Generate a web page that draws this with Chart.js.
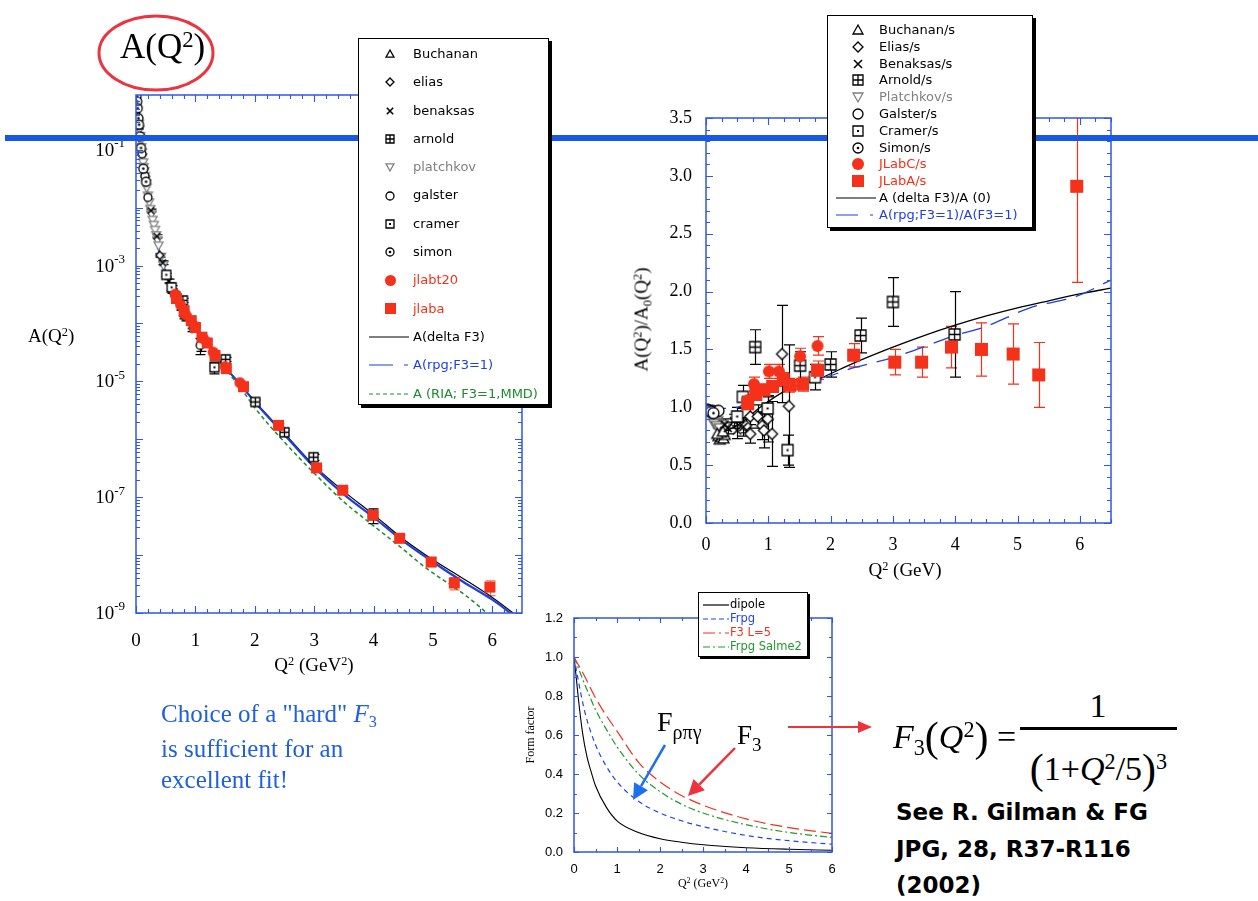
<!DOCTYPE html>
<html>
<head>
<meta charset="utf-8">
<script src="https://cdn.jsdelivr.net/npm/chart.js@4.4.1/dist/chart.umd.min.js"></script>
<style>
  body { margin: 0; width: 1258px; height: 901px; background: #fff; position: relative; overflow: hidden; font-family: 'Liberation Serif', serif; }
  canvas.chart { position: absolute; z-index: 1; }
  .t { position: absolute; white-space: nowrap; line-height: 1; z-index: 2; }
  .sp { font-size: .65em; position: relative; top: -.5em; }
  .sb { font-size: .65em; position: relative; top: .3em; }
  .legend { position: absolute; background: #fff; border: 1.5px solid #000; box-shadow: 3px 3px 0 #000; font-family: 'DejaVu Sans', sans-serif; z-index: 4; box-sizing: border-box; }
  #bar { position: absolute; left: 5px; top: 135px; width: 1253px; height: 6px; background: #1858e6; z-index: 3; }
  #ov { position: absolute; left: 0; top: 0; z-index: 5; pointer-events: none; }
</style>
</head>
<body>
<canvas class="chart" id="c1" width="560" height="700" style="left:0;top:0"></canvas>
<canvas class="chart" id="c2" width="698" height="600" style="left:560px;top:0"></canvas>
<canvas class="chart" id="c3" width="360" height="321" style="left:500px;top:580px"></canvas>
<div id="bar"></div>

<div class="legend" id="leg1"></div>
<div class="legend" id="leg2"></div>
<div class="legend" id="leg3" style="box-shadow:2px 2px 0 #000"></div>

<div class="t" style="left:120px;top:29px;font-size:35px">A(Q<span class="sp">2</span>)</div>
<div class="t" style="left:28px;top:326px;font-size:19px">A(Q<span class="sp">2</span>)</div>
<div class="t" style="left:234px;top:655px;width:160px;text-align:center;font-size:19px">Q<span class="sp">2</span> (GeV<span class="sp">2</span>)</div>
<div class="t" style="left:825px;top:560px;width:160px;text-align:center;font-size:19px">Q<span class="sp">2</span> (GeV)</div>
<div class="t" style="left:561px;top:310px;width:160px;text-align:center;font-size:19px;transform:rotate(-90deg)">A(Q<span class="sp">2</span>)/A<span class="sb">0</span>(Q<span class="sp">2</span>)</div>
<div class="t" style="left:490px;top:729px;width:80px;text-align:center;font-size:12px;transform:rotate(-90deg)">Form factor</div>
<div class="t" style="left:663px;top:877px;width:80px;text-align:center;font-size:12px">Q<span class="sp">2</span> (GeV<span class="sp">2</span>)</div>

<div class="t" style="left:657px;top:708px;font-size:28px">F<span style="font-size:20px;position:relative;top:8px">ρπγ</span></div>
<div class="t" style="left:737px;top:722px;font-size:27px">F<span style="font-size:19px;position:relative;top:7px">3</span></div>

<div class="t" style="left:161px;top:698px;font-size:25px;line-height:31px;color:#1f5fe0">Choice of a "hard" <i>F</i><span class="sb">3</span><br>is sufficient for an<br>excellent fit!</div>

<div class="t" style="left:893px;top:713px;font-size:34px"><i>F</i><span class="sb">3</span><span style="font-size:42px;position:relative;top:3px">(</span><i>Q</i><span class="sp">2</span><span style="font-size:42px;position:relative;top:3px">)</span> =</div>
<div class="t" style="left:1040px;top:689px;width:116px;text-align:center;font-size:34px">1</div>
<div style="position:absolute;left:1020px;top:727px;width:157px;height:2.5px;background:#000;z-index:2"></div>
<div class="t" style="left:1020px;top:745px;width:157px;text-align:center;font-size:34px"><span style="font-size:42px;position:relative;top:3px">(</span>1+<i>Q</i><span class="sp">2</span>/5<span style="font-size:42px;position:relative;top:3px">)</span><span class="sp">3</span></div>

<div class="t" style="left:896px;top:794px;font-size:23px;line-height:36.5px;font-family:'DejaVu Sans',sans-serif;font-weight:bold">See R. Gilman &amp; FG<br>JPG, 28, R37-R116<br>(2002)</div>

<svg id="ov" width="1258" height="901"></svg>

<script>
// ---------- data: chart 1, A(Q^2) on a log axis ----------
const qTicks = [0, 1, 2, 3, 4, 5, 6];
const aTicks = [1e-9, 1e-7, 1e-5, 1e-3, 1e-1];

// [Q2, A, error]
const buchanan1 = [[0.02, 0.63], [0.035, 0.40], [0.05, 0.26]];
const simon1 = [[0.011, 0.85], [0.02, 0.68], [0.029, 0.52], [0.04, 0.35], [0.051, 0.27], [0.068, 0.17], [0.084, 0.107], [0.123, 0.047], [0.169, 0.028]];
const platchkov1 = [[0.05, 0.28], [0.06, 0.22], [0.07, 0.17], [0.08, 0.14], [0.09, 0.11], [0.10, 0.089], [0.11, 0.073], [0.12, 0.060], [0.13, 0.050], [0.14, 0.042], [0.15, 0.035], [0.16, 0.030], [0.17, 0.026], [0.18, 0.022], [0.20, 0.016], [0.22, 0.0122], [0.24, 0.0094], [0.26, 0.0076], [0.28, 0.0061], [0.30, 0.0050], [0.32, 0.0041], [0.34, 0.0033], [0.36, 0.0027], [0.38, 0.0022], [0.42, 0.0014], [0.46, 0.0010]];
const galster1 = [[0.10, 0.085], [0.15, 0.035], [0.20, 0.015], [1.08, 4.2e-5, 1.3e-5]];
const benaksas1 = [[0.25, 8.9e-3, 5e-4], [0.35, 3.2e-3, 2e-4], [0.45, 1.12e-3, 8e-5], [0.55, 5.4e-4, 4e-5], [0.65, 3.2e-4, 3e-5], [0.75, 1.9e-4, 2e-5], [0.85, 1.26e-4, 1.5e-5]];
const elias1 = [[0.40, 1.5e-3, 1e-4], [0.60, 3.6e-4, 3e-5], [0.80, 1.35e-4, 1.5e-5], [0.95, 8.2e-5, 1e-5], [1.10, 4.3e-5, 1e-5]];
const cramer1 = [[0.51, 6.9e-4, 4e-5], [0.60, 4.2e-4, 3e-5], [1.32, 1.75e-5, 4e-6]];
const arnold1 = [[0.79, 2.5e-4, 2e-5], [1.51, 2.4e-5, 2e-6], [2.01, 4.4e-6, 4e-7], [2.50, 1.32e-6, 1.3e-7], [2.99, 4.9e-7, 6e-8], [3.99, 4.9e-8, 1.4e-8]];
const jlabt20 = [[0.66, 3.2e-4, 1.5e-5], [0.75, 2.1e-4, 1e-5], [0.84, 1.4e-4, 7e-6], [1.00, 8.9e-5, 4e-6], [1.14, 5.4e-5, 3e-6], [1.30, 3.2e-5, 2e-6], [1.50, 1.8e-5, 1e-6], [1.75, 9.5e-6, 6e-7]];
const jlaba = [[0.68, 2.7e-4, 1.3e-5], [0.81, 1.66e-4, 8e-6], [0.93, 1.12e-4, 6e-6], [1.00, 8.5e-5, 4e-6], [1.11, 5.8e-5, 3e-6], [1.20, 4.6e-5, 2.5e-6], [1.33, 2.8e-5, 1.5e-6], [1.52, 1.66e-5, 9e-7], [1.81, 8.1e-6, 5e-7], [2.40, 1.74e-6, 1.2e-7], [3.04, 3.2e-7, 2.5e-8], [3.48, 1.32e-7, 1e-8], [3.99, 4.9e-8, 5e-9], [4.44, 1.95e-8, 2.5e-9], [4.97, 7.6e-9, 1.3e-9], [5.36, 3.3e-9, 8e-10], [5.96, 2.8e-9, 8e-10]];

const deltaF3 = [[0, 1.0], [0.05, 0.28], [0.1, 0.089], [0.15, 0.035], [0.2, 0.016], [0.3, 5.0e-3], [0.4, 1.6e-3], [0.5, 7.6e-4], [0.6, 4.2e-4], [0.7, 2.5e-4], [0.8, 1.6e-4], [1.0, 8.5e-5], [1.2, 4.3e-5], [1.5, 1.78e-5], [1.8, 7.9e-6], [2.0, 4.5e-6], [2.5, 1.26e-6], [3.0, 3.5e-7], [3.5, 1.26e-7], [4.0, 5.0e-8], [4.5, 1.9e-8], [5.0, 8.3e-9], [5.5, 4.0e-9], [6.0, 1.86e-9], [6.35, 1.0e-9], [6.5, 7.5e-10]];
const rpgF3 = [[0, 1.0], [0.05, 0.28], [0.1, 0.089], [0.15, 0.035], [0.2, 0.016], [0.3, 5.0e-3], [0.4, 1.6e-3], [0.5, 7.6e-4], [0.6, 4.2e-4], [0.7, 2.5e-4], [0.8, 1.6e-4], [1.0, 8.5e-5], [1.2, 4.3e-5], [1.5, 1.76e-5], [1.8, 7.8e-6], [2.0, 4.4e-6], [2.5, 1.2e-6], [3.0, 3.3e-7], [3.5, 1.12e-7], [4.0, 4.5e-8], [4.5, 1.74e-8], [5.0, 7.6e-9], [5.5, 3.5e-9], [6.0, 1.7e-9], [6.3, 1.0e-9], [6.5, 6.5e-10]];
const riaF3 = [[0, 1.0], [0.05, 0.28], [0.1, 0.089], [0.15, 0.035], [0.2, 0.016], [0.3, 5.0e-3], [0.4, 1.6e-3], [0.5, 7.5e-4], [0.6, 4.1e-4], [0.7, 2.45e-4], [0.8, 1.55e-4], [1.0, 8.2e-5], [1.2, 4.1e-5], [1.5, 1.66e-5], [1.8, 6.8e-6], [2.0, 3.5e-6], [2.5, 8.9e-7], [3.0, 2.6e-7], [3.5, 8.3e-8], [4.0, 3.2e-8], [4.5, 1.26e-8], [4.88, 6.0e-9], [5.5, 2.2e-9], [5.86, 1.1e-9], [6.0, 8e-10]];

// ---------- data: chart 2, A(Q^2)/A0(Q^2) ----------
const ratioTicks = [0, 0.5, 1, 1.5, 2, 2.5, 3, 3.5];
const buchanan2 = [[0.20, 0.75], [0.22, 0.72], [0.25, 0.74], [0.28, 0.73], [0.30, 0.76], [0.24, 0.78], [0.18, 0.77], [0.27, 0.79]];
const elias2 = [[0.64, 0.84, 0.06], [0.71, 0.77, 0.08], [0.71, 0.92, 0.1], [0.83, 0.92, 0.1], [0.90, 0.84, 0.12], [0.93, 0.80, 0.15], [0.99, 0.90, 0.2], [1.06, 0.77, 0.28], [1.22, 1.46, 0.42], [1.33, 1.01, 0.53]];
const benaksas2 = [[0.30, 0.85, 0.05], [0.35, 0.82, 0.05], [0.45, 0.88, 0.06], [0.50, 0.80, 0.07], [0.60, 0.83, 0.08]];
const arnold2 = [[0.79, 1.52, 0.15], [1.51, 1.36, 0.12], [2.00, 1.37, 0.11], [2.48, 1.62, 0.15], [3.00, 1.91, 0.21], [3.99, 1.63, 0.37]];
const platchkov2 = [[0.02, 0.97], [0.05, 0.96], [0.08, 0.95], [0.10, 0.93], [0.12, 0.91], [0.15, 0.90], [0.18, 0.88], [0.20, 0.86], [0.25, 0.85], [0.30, 0.83], [0.13, 0.86], [0.17, 0.84], [0.22, 0.82]];
const galster2 = [[0.10, 0.97], [0.15, 0.96], [0.20, 0.97]];
const cramer2 = [[0.50, 0.92, 0.08], [0.59, 1.09, 0.1], [0.99, 0.99, 0.1], [1.31, 0.63, 0.13], [1.75, 1.26, 0.11]];
const simon2 = [[0.02, 0.98], [0.05, 0.97], [0.08, 0.96], [0.12, 0.95]];
const jlabC = [[0.66, 1.06, 0.05], [0.77, 1.20, 0.06], [1.01, 1.31, 0.06], [1.17, 1.31, 0.06], [1.51, 1.44, 0.07], [1.79, 1.53, 0.08]];
const jlabA = [[0.67, 1.03, 0.04], [0.80, 1.11, 0.04], [0.93, 1.15, 0.05], [1.07, 1.18, 0.05], [1.24, 1.24, 0.06], [1.34, 1.19, 0.06], [1.55, 1.20, 0.06], [1.79, 1.32, 0.08], [2.37, 1.45, 0.1], [3.03, 1.39, 0.11], [3.46, 1.39, 0.13], [3.94, 1.52, 0.18], [4.42, 1.50, 0.23], [4.93, 1.46, 0.26], [5.34, 1.28, 0.28], [5.95, 2.91, 0.83]];
const ratioDelta = [[0.35, 0.80], [0.55, 0.86], [0.87, 1.00], [1.30, 1.15], [1.83, 1.25], [2.36, 1.38], [3.00, 1.52], [3.50, 1.62], [4.00, 1.71], [4.50, 1.79], [5.00, 1.86], [5.50, 1.92], [6.00, 1.98], [6.50, 2.03]];
const ratioRpg = [[0.0, 1.0], [0.2, 0.99], [0.5, 1.0], [0.8, 1.1], [1.27, 1.22], [1.83, 1.25], [2.36, 1.34], [3.0, 1.43], [4.0, 1.62], [4.5, 1.70], [5.2, 1.86], [5.95, 1.96], [6.5, 2.10]];

// ---------- data: chart 3, form factors ----------
const ffTicks = [0, 0.2, 0.4, 0.6, 0.8, 1.0, 1.2];
const dipole = [[0, 1], [0.05, 0.9], [0.1, 0.79], [0.2, 0.61], [0.3, 0.49], [0.4, 0.41], [0.5, 0.34], [0.75, 0.23], [1.0, 0.16], [1.5, 0.1], [2.0, 0.068], [2.5, 0.05], [3.0, 0.037], [4.0, 0.022], [5.0, 0.014], [6.0, 0.009]];
const frpg = [[0, 1], [0.1, 0.88], [0.25, 0.72], [0.5, 0.55], [0.75, 0.44], [1.0, 0.36], [1.5, 0.26], [2.0, 0.2], [2.5, 0.16], [3.0, 0.13], [4.0, 0.085], [5.0, 0.058], [6.0, 0.04]];
const f3L5 = [[0, 1], [0.25, 0.9], [0.5, 0.79], [0.75, 0.7], [1.0, 0.62], [1.5, 0.46], [2.0, 0.36], [2.5, 0.29], [3.0, 0.24], [4.0, 0.17], [5.0, 0.125], [6.0, 0.095]];
const salme2 = [[0, 1], [0.25, 0.86], [0.5, 0.73], [0.75, 0.63], [1.0, 0.54], [1.5, 0.4], [2.0, 0.31], [2.5, 0.245], [3.0, 0.2], [4.0, 0.14], [5.0, 0.1], [6.0, 0.075]];

// ---------- helpers ----------
const SERIF = "'Liberation Serif', serif";
const SANS = "'Liberation Sans', sans-serif";
const AXIS = '#2f56e8';
const RED = '#f4311a';
const GRAY = '#808080';

function pts(a) { return a.map(p => ({ x: p[0], y: p[1] })); }
function errs(a) { return a.map(p => p[2] || 0); }

// marker glyphs drawn on small canvases, used as pointStyle
function mk(kind, size, color) {
  const s = size + 4, c = document.createElement('canvas');
  c.width = c.height = s;
  const g = c.getContext('2d'), m = s / 2, r = size / 2;
  g.lineWidth = 1.3;
  g.strokeStyle = color;
  g.fillStyle = '#fff';
  g.beginPath();
  if (kind === 'sq' || kind === 'sqplus' || kind === 'sqdot') {
    g.rect(m - r, m - r, size, size);
    if (kind === 'sq') { g.fillStyle = color; g.fill(); return c; }
    g.fill(); g.stroke();
    g.beginPath();
    if (kind === 'sqplus') { g.moveTo(m, m - r); g.lineTo(m, m + r); g.moveTo(m - r, m); g.lineTo(m + r, m); g.stroke(); }
    else { g.fillStyle = color; g.fillRect(m - 1, m - 1, 2, 2); }
  } else if (kind === 'circ' || kind === 'cdot' || kind === 'disc') {
    g.arc(m, m, r, 0, 2 * Math.PI);
    if (kind === 'disc') { g.fillStyle = color; g.fill(); return c; }
    g.fill(); g.stroke();
    if (kind === 'cdot') { g.beginPath(); g.fillStyle = color; g.arc(m, m, 1.3, 0, 2 * Math.PI); g.fill(); }
  } else if (kind === 'tri') {
    g.moveTo(m, m - r); g.lineTo(m + r, m + r * 0.8); g.lineTo(m - r, m + r * 0.8); g.closePath(); g.fill(); g.stroke();
  } else if (kind === 'tridown') {
    g.moveTo(m, m + r); g.lineTo(m + r, m - r * 0.8); g.lineTo(m - r, m - r * 0.8); g.closePath(); g.fill(); g.stroke();
  } else if (kind === 'dia') {
    g.moveTo(m, m - r); g.lineTo(m + r, m); g.lineTo(m, m + r); g.lineTo(m - r, m); g.closePath(); g.fill(); g.stroke();
  } else if (kind === 'x') {
    g.lineWidth = 1.6;
    g.moveTo(m - r * 0.8, m - r * 0.8); g.lineTo(m + r * 0.8, m + r * 0.8);
    g.moveTo(m + r * 0.8, m - r * 0.8); g.lineTo(m - r * 0.8, m + r * 0.8); g.stroke();
  }
  return c;
}

function pointSet(data, kind, size, color, order, errColor) {
  return {
    data: pts(data), err: errs(data), errColor: errColor || color,
    pointStyle: mk(kind, size, color), pointRadius: size / 2, showLine: false, order: order
  };
}
function curve(data, color, width, dash) {
  return {
    data: pts(data), showLine: true, pointRadius: 0, borderColor: color, borderWidth: width,
    borderDash: dash || [], cubicInterpolationMode: 'monotone', order: 5
  };
}

function tickList(t) {
  const out = [];
  if (t.log) {
    for (let e = t.from; e <= t.to; e++) {
      for (let k = 1; k < 10; k++) {
        const v = k * Math.pow(10, e);
        if (v >= t.min * 0.999 && v <= t.max) out.push([v, k === 1]);
      }
    }
  } else {
    const n = Math.floor((t.max - t.min) / t.minor + 1e-6);
    for (let i = 0; i <= n; i++) {
      const v = t.min + i * t.minor;
      out.push([v, Math.abs(v / t.major - Math.round(v / t.major)) < 1e-6]);
    }
  }
  return out;
}

// blue box round the plot with inward ticks on all four sides
const frame = {
  id: 'frame',
  afterDraw(chart, args, o) {
    const ctx = chart.ctx, a = chart.chartArea, xs = chart.scales.x, ys = chart.scales.y;
    ctx.save();
    ctx.strokeStyle = o.color;
    ctx.lineWidth = 1.5;
    ctx.strokeRect(a.left, a.top, a.right - a.left, a.bottom - a.top);
    ctx.lineWidth = 1.1;
    ctx.beginPath();
    tickList(o.x).forEach(([v, major]) => {
      const p = Math.round(xs.getPixelForValue(v)) + 0.5, L = major ? o.major : o.minor;
      ctx.moveTo(p, a.bottom); ctx.lineTo(p, a.bottom - L);
      ctx.moveTo(p, a.top); ctx.lineTo(p, a.top + L);
    });
    tickList(o.y).forEach(([v, major]) => {
      const p = Math.round(ys.getPixelForValue(v)) + 0.5, L = major ? o.major : o.minor;
      ctx.moveTo(a.left, p); ctx.lineTo(a.left + L, p);
      ctx.moveTo(a.right, p); ctx.lineTo(a.right - L, p);
    });
    ctx.stroke();
    if (o.supLabels) {
      ctx.fillStyle = '#000';
      ctx.textBaseline = 'middle';
      o.supLabels.forEach(v => {
        const p = ys.getPixelForValue(v);
        const ex = String(Math.round(Math.log10(v)));
        ctx.font = '13px ' + SERIF;
        const w2 = ctx.measureText(ex).width;
        ctx.font = '19px ' + SERIF;
        const w1 = ctx.measureText('10').width;
        const right = a.left - 11;
        ctx.fillText('10', right - w2 - w1, p + 1);
        ctx.font = '13px ' + SERIF;
        ctx.fillText(ex, right - w2, p - 6);
      });
    }
    ctx.restore();
  }
};

// vertical error bars with caps, under the markers
const errBars = {
  id: 'errBars',
  beforeDatasetsDraw(chart, args, o) {
    const ctx = chart.ctx, a = chart.chartArea, xs = chart.scales.x, ys = chart.scales.y;
    ctx.save();
    ctx.beginPath();
    ctx.rect(a.left, a.top, a.right - a.left, a.bottom - a.top);
    ctx.clip();
    chart.data.datasets.forEach(d => {
      if (!d.err) return;
      ctx.strokeStyle = d.errColor;
      ctx.lineWidth = 1.2;
      ctx.beginPath();
      d.data.forEach((p, i) => {
        const e = d.err[i];
        if (!e) return;
        const x = Math.round(xs.getPixelForValue(p.x)) + 0.5;
        const y1 = ys.getPixelForValue(Math.max(p.y - e, p.y * 0.05));
        const y2 = ys.getPixelForValue(p.y + e);
        ctx.moveTo(x, y1); ctx.lineTo(x, y2);
        ctx.moveTo(x - o.cap, y1); ctx.lineTo(x + o.cap, y1);
        ctx.moveTo(x - o.cap, y2); ctx.lineTo(x + o.cap, y2);
      });
      ctx.stroke();
    });
    ctx.restore();
  }
};

function baseOptions(pad, frameOpts, cap) {
  return {
    responsive: false, animation: false, devicePixelRatio: 1,
    layout: { padding: pad },
    plugins: { legend: { display: false }, tooltip: { enabled: false }, frame: frameOpts, errBars: { cap: cap } },
    scales: {}
  };
}

// ---------- chart 1 ----------
const opt1 = baseOptions({ left: 0, top: 95, right: 38, bottom: 0 }, {
  color: AXIS, major: 7, minor: 4,
  x: { min: 0, max: 6.5, minor: 0.2, major: 1 },
  y: { log: true, from: -9, to: -1, min: 1e-9, max: 0.88 },
  supLabels: aTicks
}, 5);
opt1.scales = {
  x: {
    type: 'linear', min: 0, max: 6.5,
    afterBuildTicks: s => { s.ticks = qTicks.map(v => ({ value: v })); },
    afterFit: s => { s.height = 87; },
    grid: { display: false, drawTicks: false }, border: { display: false },
    ticks: { padding: 17, color: '#000', font: { family: SERIF, size: 19 }, maxRotation: 0, autoSkip: false }
  },
  y: {
    type: 'logarithmic', min: 1e-9, max: 0.88,
    afterBuildTicks: s => { s.ticks = aTicks.map(v => ({ value: v })); },
    afterFit: s => { s.width = 136; },
    grid: { display: false, drawTicks: false }, border: { display: false },
    ticks: { display: false }
  }
};
new Chart(document.getElementById('c1'), {
  type: 'scatter',
  data: {
    datasets: [
      pointSet(jlaba, 'sq', 11, RED, 0, '#f7705a'),
      pointSet(jlabt20, 'disc', 11, RED, 0, '#f7705a'),
      pointSet(simon1, 'cdot', 9, '#000', 1),
      pointSet(cramer1, 'sqdot', 9, '#000', 1),
      pointSet(galster1, 'circ', 8, '#000', 1),
      pointSet(arnold1, 'sqplus', 9, '#000', 1),
      pointSet(benaksas1, 'x', 8, '#000', 1),
      pointSet(elias1, 'dia', 8, '#000', 1),
      pointSet(platchkov1, 'tridown', 9, GRAY, 2),
      pointSet(buchanan1, 'tri', 8, '#000', 1),
      curve(riaF3, '#1f8a2e', 1.5, [4, 3]),
      curve(rpgF3, '#1f3ee0', 2.2),
      curve(deltaF3, '#000', 1.2)
    ]
  },
  options: opt1,
  plugins: [errBars, frame]
});

// ---------- chart 2 ----------
const opt2 = baseOptions({ left: 0, top: 118, right: 147, bottom: 0 }, {
  color: AXIS, major: 7, minor: 4,
  x: { min: 0, max: 6.5, minor: 0.25, major: 1 },
  y: { min: 0, max: 3.5, minor: 0.1, major: 0.5 }
}, 5.5);
opt2.scales = {
  x: {
    type: 'linear', min: 0, max: 6.5,
    afterBuildTicks: s => { s.ticks = qTicks.map(v => ({ value: v })); },
    afterFit: s => { s.height = 77; },
    grid: { display: false, drawTicks: false }, border: { display: false },
    ticks: { padding: 11, color: '#000', font: { family: SERIF, size: 18 }, maxRotation: 0, autoSkip: false }
  },
  y: {
    type: 'linear', min: 0, max: 3.5,
    afterBuildTicks: s => { s.ticks = ratioTicks.map(v => ({ value: v })); },
    afterFit: s => { s.width = 146; },
    grid: { display: false, drawTicks: false }, border: { display: false },
    ticks: { padding: 14, color: '#000', font: { family: SERIF, size: 18 }, callback: v => v.toFixed(1) }
  }
};
new Chart(document.getElementById('c2'), {
  type: 'scatter',
  data: {
    datasets: [
      pointSet(jlabA, 'sq', 13, RED, 0),
      pointSet(jlabC, 'disc', 12, RED, 0),
      pointSet(simon2, 'cdot', 11, '#000', 1),
      pointSet(cramer2, 'sqdot', 11, '#000', 1),
      pointSet(galster2, 'circ', 11, '#000', 1),
      pointSet(arnold2, 'sqplus', 11, '#000', 1),
      pointSet(benaksas2, 'x', 10, '#000', 1),
      pointSet(elias2, 'dia', 11, '#000', 1),
      pointSet(platchkov2, 'tridown', 11, '#555', 2),
      pointSet(buchanan2, 'tri', 11, '#000', 1),
      curve(ratioRpg, '#1f3ee0', 1.3, [20, 10]),
      curve(ratioDelta, '#000', 1.3)
    ]
  },
  options: opt2,
  plugins: [errBars, frame]
});

// ---------- chart 3 ----------
const opt3 = baseOptions({ left: 0, top: 38, right: 28, bottom: 0 }, {
  color: AXIS, major: 5, minor: 3,
  x: { min: 0, max: 6, minor: 0.5, major: 1 },
  y: { min: 0, max: 1.2, minor: 0.1, major: 0.2 }
}, 4);
opt3.scales = {
  x: {
    type: 'linear', min: 0, max: 6,
    afterBuildTicks: s => { s.ticks = qTicks.map(v => ({ value: v })); },
    afterFit: s => { s.height = 49; },
    grid: { display: false, drawTicks: false }, border: { display: false },
    ticks: { padding: 10, color: '#000', font: { family: SANS, size: 13 }, maxRotation: 0, autoSkip: false }
  },
  y: {
    type: 'linear', min: 0, max: 1.2,
    afterBuildTicks: s => { s.ticks = ffTicks.map(v => ({ value: v })); },
    afterFit: s => { s.width = 74; },
    grid: { display: false, drawTicks: false }, border: { display: false },
    ticks: { padding: 11, color: '#000', font: { family: SANS, size: 13 }, callback: v => v.toFixed(1) }
  }
};
new Chart(document.getElementById('c3'), {
  type: 'scatter',
  data: {
    datasets: [
      curve(f3L5, '#ee3322', 1.2, [12, 5]),
      curve(salme2, '#1f9a2e', 1.2, [7, 3, 2, 3]),
      curve(frpg, '#2244ee', 1.2, [5, 4]),
      curve(dipole, '#000', 1.1)
    ]
  },
  options: opt3,
  plugins: [frame]
});

// ---------- legends ----------
function lineSample(w, color, dash, lw) {
  const c = document.createElement('canvas');
  c.width = w; c.height = 6;
  const g = c.getContext('2d');
  g.strokeStyle = color; g.lineWidth = lw; g.setLineDash(dash);
  g.beginPath(); g.moveTo(0, 3); g.lineTo(w, 3); g.stroke();
  return c;
}
function buildLegend(id, box, items, cfg) {
  const el = document.getElementById(id);
  Object.assign(el.style, { left: box[0] + 'px', top: box[1] + 'px', width: box[2] + 'px', height: box[3] + 'px', fontSize: cfg.font + 'px' });
  items.forEach((it, i) => {
    const cy = cfg.first + i * cfg.step;
    const col = it.c || '#000';
    if (it.m) {
      const c = mk(it.m, it.s || cfg.ms, col);
      c.style.cssText = `position:absolute;left:${cfg.mx - c.width / 2}px;top:${cy - c.height / 2}px`;
      el.appendChild(c);
    }
    if (it.line) {
      const c = lineSample(cfg.lw, col, it.line, 1.2);
      c.style.cssText = `position:absolute;left:${cfg.lx}px;top:${cy - 3}px`;
      el.appendChild(c);
    }
    const s = document.createElement('span');
    s.textContent = it.t;
    s.style.cssText = `position:absolute;left:${cfg.tx}px;top:${cy - cfg.font * 0.62}px;line-height:${cfg.font * 1.16}px;color:${col};white-space:nowrap`;
    el.appendChild(s);
  });
}

buildLegend('leg1', [358, 38, 191, 367], [
  { m: 'tri', t: 'Buchanan' }, { m: 'dia', t: 'elias' }, { m: 'x', t: 'benaksas' },
  { m: 'sqplus', t: 'arnold' }, { m: 'tridown', t: 'platchkov', c: GRAY },
  { m: 'circ', t: 'galster' }, { m: 'sqdot', t: 'cramer' }, { m: 'cdot', t: 'simon' },
  { m: 'disc', t: 'jlabt20', c: RED, s: 11 }, { m: 'sq', t: 'jlaba', c: RED, s: 11 },
  { line: [], t: 'A(delta F3)' },
  { line: [24, 11, 4, 11], t: 'A(rpg;F3=1)', c: '#1f3ee0' },
  { line: [4, 3], t: 'A (RIA; F3=1,MMD)', c: '#1f8a2e' }
], { font: 13, first: 15, step: 28.3, mx: 31, ms: 8, tx: 54, lx: 10, lw: 40 });

buildLegend('leg2', [827, 15, 206, 213], [
  { m: 'tri', t: 'Buchanan/s' }, { m: 'dia', t: 'Elias/s' }, { m: 'x', t: 'Benaksas/s' },
  { m: 'sqplus', t: 'Arnold/s' }, { m: 'tridown', t: 'Platchkov/s', c: GRAY },
  { m: 'circ', t: 'Galster/s' }, { m: 'sqdot', t: 'Cramer/s' }, { m: 'cdot', t: 'Simon/s' },
  { m: 'disc', t: 'JLabC/s', c: RED, s: 12 }, { m: 'sq', t: 'JLabA/s', c: RED, s: 12 },
  { line: [], t: 'A (delta F3)/A (0)' },
  { line: [22, 12, 3, 12], t: 'A(rpg;F3=1)/A(F3=1)', c: '#1f3ee0' }
], { font: 13, first: 14, step: 16.8, mx: 30, ms: 10, tx: 51, lx: 8, lw: 40 });

buildLegend('leg3', [698, 592, 110, 65], [
  { line: [], t: 'dipole' },
  { line: [5, 3], t: 'Frpg', c: '#2244ee' },
  { line: [12, 4, 2, 4], t: 'F3 L=5', c: '#ee3322' },
  { line: [7, 3, 2, 3], t: 'Frpg Salme2', c: '#1f9a2e' }
], { font: 11.5, first: 12, step: 14, mx: 0, ms: 0, tx: 31, lx: 4, lw: 26 });

// ---------- overlay: ellipse and arrows ----------
const svg = document.getElementById('ov');
const NS = 'http://www.w3.org/2000/svg';
function el(tag, attrs) {
  const e = document.createElementNS(NS, tag);
  for (const k in attrs) e.setAttribute(k, attrs[k]);
  svg.appendChild(e);
  return e;
}
function arrow(x0, y0, x1, y1, color, w, head, half) {
  const dx = x1 - x0, dy = y1 - y0, len = Math.hypot(dx, dy), ux = dx / len, uy = dy / len;
  const bx = x1 - ux * head, by = y1 - uy * head;
  el('line', { x1: x0, y1: y0, x2: bx, y2: by, stroke: color, 'stroke-width': w });
  el('polygon', { points: `${x1},${y1} ${bx - uy * half},${by + ux * half} ${bx + uy * half},${by - ux * half}`, fill: color });
}
el('ellipse', { cx: 156, cy: 53, rx: 57, ry: 37, fill: 'none', stroke: '#ec3340', 'stroke-width': 3 });
arrow(665, 745, 633, 800, '#1e6ff0', 2.5, 16, 8);
arrow(735, 748, 688, 796, '#f0323c', 2.5, 16, 8);
arrow(788, 727, 872, 727, '#f0323c', 2.2, 14, 6);
</script>
</body>
</html>
